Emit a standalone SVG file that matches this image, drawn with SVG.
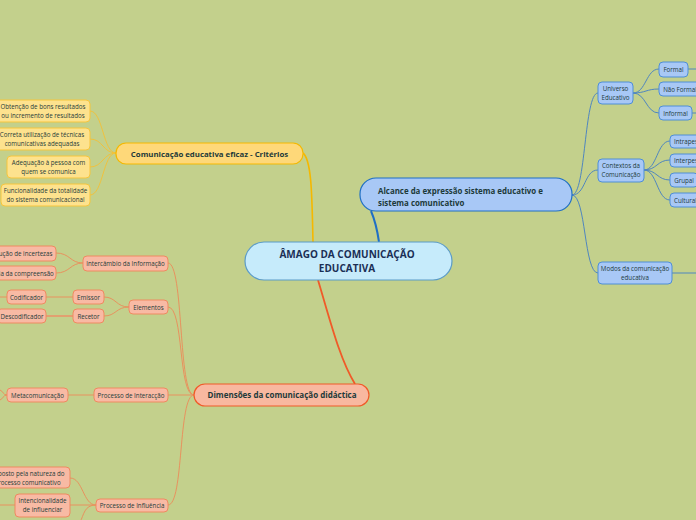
<svg xmlns="http://www.w3.org/2000/svg" width="696" height="520" viewBox="0 0 696 520">
<style>
text{font-family:"Open Sans","Noto Sans","Liberation Sans",sans-serif;fill:#1d3a3a}
.s{font-size:6.2px;text-anchor:middle}
.b{font-weight:bold}
.bl{fill:#a8c8f6;stroke:#4f8ed6;stroke-width:1}
.ye{fill:#fde28e;stroke:#f6c53c;stroke-width:1}
.re{fill:#f8baa4;stroke:#ef8a60;stroke-width:1}
.cb{fill:none;stroke:#4f86bf;stroke-width:1}
.cy{fill:none;stroke:#f0c23e;stroke-width:1}
.cr{fill:none;stroke:#e8925e;stroke-width:1}
</style>
<rect width="696" height="520" fill="#c3d08c"/>
<g id="connectors">
<path d="M379,242 C377,228 374,218 371,211" fill="none" stroke="#1f6fc5" stroke-width="2"/>
<path d="M313,242 C312,200 312,160 303,153" fill="none" stroke="#f5b800" stroke-width="1.6"/>
<path d="M318,280 C330,320 340,360 355,384" fill="none" stroke="#f05a28" stroke-width="1.8"/>
<path class="cb" d="M572,195 C586,195 584,93 598,93"/>
<path class="cb" d="M572,195 C586,195 584,170 598,170"/>
<path class="cb" d="M572,195 C586,195 584,273 598,273"/>
<path class="cb" d="M672,273 L696,273"/>
<path class="cb" d="M633,93 C646,93 646,69 659,69"/>
<path class="cb" d="M633,93 C646,93 646,89 659,89"/>
<path class="cb" d="M633,93 C646,93 646,113 659,113"/>
<path class="cb" d="M688,69 L696,69"/>
<path class="cb" d="M692,113 L696,113"/>
<path class="cb" d="M644,170 C657,170 657,141 670,141"/>
<path class="cb" d="M644,170 C657,170 657,160 670,160"/>
<path class="cb" d="M644,170 C657,170 657,180 670,180"/>
<path class="cb" d="M644,170 C657,170 657,200 670,200"/>
<path class="cy" d="M116,153 C103,153 103,111 90,111"/>
<path class="cy" d="M116,153 C103,153 103,139 90,139"/>
<path class="cy" d="M116,153 C103,153 103,167 90,167"/>
<path class="cy" d="M116,153 C103,153 103,195 90,195"/>
<path class="cr" d="M194,395 C178,395 184,263 168,263"/>
<path class="cr" d="M194,395 C178,395 184,307 168,307"/>
<path class="cr" d="M194,395 L168,395"/>
<path class="cr" d="M194,395 C178,395 184,505 168,505"/>
<path class="cr" d="M83,263 C70,263 70,253 56,253"/>
<path class="cr" d="M83,263 C70,263 70,273 56,273"/>
<path class="cr" d="M129,307 C116,307 116,297 104,297"/>
<path class="cr" d="M129,307 C116,307 116,316 104,316"/>
<path class="cr" d="M73,297 L46,297"/>
<path d="M73,316 L46,316" fill="none" stroke="#e2a070" stroke-width="2"/>
<path class="cr" d="M7,297 L0,297"/>
<path class="cr" d="M94,395 L68,395"/>
<path class="cr" d="M7,395 C3,395 3,391 0,390"/>
<path class="cr" d="M7,395 C3,395 3,399 0,400"/>
<path class="cr" d="M96,505 C83,505 83,478 70,478"/>
<path class="cr" d="M96,505 L70,505"/>
<path class="cr" d="M96,505 C84,505 84,515 80,522"/>
<path class="cr" d="M15,505 L0,505"/>
</g>
<g id="center">
<rect x="245" y="242" width="207" height="38" rx="19" fill="#c6ebfb" stroke="#5b9bc7" stroke-width="1.2"/>
<text x="347" y="258" text-anchor="middle" class="b" font-size="10" style="fill:#1b2f55">ÂMAGO DA COMUNICAÇÃO</text>
<text x="347" y="272" text-anchor="middle" class="b" font-size="10" style="fill:#1b2f55">EDUCATIVA</text>
</g>
<g id="alcance">
<rect x="360" y="178" width="212" height="33" rx="16" fill="#a8c8f6" stroke="#1f6fc5" stroke-width="1.2"/>
<text x="378" y="194" class="b" font-size="7.9">Alcance da expressão sistema educativo e</text>
<text x="378" y="205.5" class="b" font-size="7.9">sistema comunicativo</text>
</g>
<g id="universo"><rect class="bl" x="598" y="82" width="35" height="22" rx="4"/><text class="s" x="615.5" y="91">Universo</text><text class="s" x="615.5" y="100">Educativo</text></g>
<g id="contextos"><rect class="bl" x="598" y="159" width="46" height="23" rx="4"/><text class="s" x="621" y="168">Contextos da</text><text class="s" x="621" y="177">Comunicação</text></g>
<g id="modos"><rect class="bl" x="598" y="262" width="74" height="22" rx="4"/><text class="s" x="635" y="271">Modos da comunicação</text><text class="s" x="635" y="280">educativa</text></g>
<g id="formal"><rect class="bl" x="659" y="62" width="29" height="15" rx="4"/><text class="s" x="673.5" y="71.5">Formal</text></g>
<g id="naoformal"><rect class="bl" x="659" y="82" width="42" height="14" rx="4"/><text class="s" x="680" y="91.5">Não Formal</text></g>
<g id="informal"><rect class="bl" x="659" y="106" width="33" height="14" rx="4"/><text class="s" x="675.5" y="115.5">Informal</text></g>
<g id="intrapessoal"><rect class="bl" x="670" y="135" width="40" height="13" rx="4"/><text class="s" x="674" y="144" style="text-anchor:start">Intrapessoal</text></g>
<g id="interpessoal"><rect class="bl" x="670" y="154" width="40" height="13" rx="4"/><text class="s" x="674" y="163" style="text-anchor:start">Interpessoal</text></g>
<g id="grupal"><rect class="bl" x="670" y="173" width="28" height="14" rx="4"/><text class="s" x="684" y="182.5">Grupal</text></g>
<g id="cultural"><rect class="bl" x="670" y="193" width="40" height="14" rx="4"/><text class="s" x="674" y="202.5" style="text-anchor:start">Cultural</text></g>
<g id="criterios">
<rect x="116" y="143" width="187" height="21" rx="10" fill="#fed879" stroke="#f5b800" stroke-width="1.2"/>
<text x="209.5" y="156.5" text-anchor="middle" class="b" font-size="7.8">Comunicação educativa eficaz - Critérios</text>
</g>
<g id="obtencao"><rect class="ye" x="-4" y="100" width="94" height="22" rx="4"/><text class="s" x="43" y="109">Obtenção de bons resultados</text><text class="s" x="43" y="118">ou incremento de resultados</text></g>
<g id="correta"><rect class="ye" x="-4" y="128" width="94" height="22" rx="4"/><text class="s" x="42" y="137">Correta utilização de técnicas</text><text class="s" x="42" y="146">comunicativas adequadas</text></g>
<g id="adequacao"><rect class="ye" x="7" y="156" width="83" height="22" rx="4"/><text class="s" x="48.5" y="165">Adequação à pessoa com</text><text class="s" x="48.5" y="174">quem se comunica</text></g>
<g id="funcionalidade"><rect class="ye" x="1" y="184" width="89" height="22" rx="4"/><text class="s" x="45.5" y="193">Funcionalidade da totalidade</text><text class="s" x="45.5" y="202">do sistema comunicacional</text></g>
<g id="dimensoes">
<rect x="194" y="384" width="175" height="22" rx="11" fill="#f8b8a0" stroke="#f05a28" stroke-width="1.2"/>
<text x="282" y="398" text-anchor="middle" class="b" font-size="8">Dimensões da comunicação didáctica</text>
</g>
<g id="intercambio"><rect class="re" x="83" y="256" width="85" height="15" rx="4"/><text class="s" x="125.5" y="265.5">Intercâmbio da Informação</text></g>
<g id="elementos"><rect class="re" x="129" y="300" width="39" height="14" rx="4"/><text class="s" x="148.5" y="309.5">Elementos</text></g>
<g id="interaccao"><rect class="re" x="94" y="388" width="74" height="14" rx="4"/><text class="s" x="131" y="397.5">Processo de Interacção</text></g>
<g id="influencia"><rect class="re" x="96" y="499" width="72" height="13" rx="4"/><text class="s" x="132" y="507.5">Processo de Influência</text></g>
<g id="incertezas"><rect class="re" x="-10" y="246" width="66" height="15" rx="4"/><text class="s" x="20" y="255.5">Redução de incertezas</text></g>
<g id="compreensao"><rect class="re" x="-20" y="266" width="76" height="14" rx="4"/><text class="s" x="16" y="275.5">Melhoria da compreensão</text></g>
<g id="emissor"><rect class="re" x="73" y="290" width="31" height="14" rx="4"/><text class="s" x="88.5" y="299.5">Emissor</text></g>
<g id="recetor"><rect class="re" x="73" y="309" width="31" height="14" rx="4"/><text class="s" x="88.5" y="318.5">Recetor</text></g>
<g id="codificador"><rect class="re" x="7" y="290" width="39" height="14" rx="4"/><text class="s" x="26.5" y="299.5">Codificador</text></g>
<g id="descodificador"><rect class="re" x="-3" y="309" width="49" height="14" rx="4"/><text class="s" x="22" y="318.5">Descodificador</text></g>
<g id="metacomunicacao"><rect class="re" x="7" y="388" width="61" height="14" rx="4"/><text class="s" x="37.5" y="397.5">Metacomunicação</text></g>
<g id="imposto"><rect class="re" x="-20" y="467" width="90" height="21" rx="4"/><text class="s" x="27.5" y="476">Imposto pela natureza do</text><text class="s" x="27.5" y="484.5">processo comunicativo</text></g>
<g id="intencionalidade"><rect class="re" x="15" y="494" width="55" height="23" rx="4"/><text class="s" x="42.5" y="503">Intencionalidade</text><text class="s" x="42.5" y="512">de influenciar</text></g>
</svg>
